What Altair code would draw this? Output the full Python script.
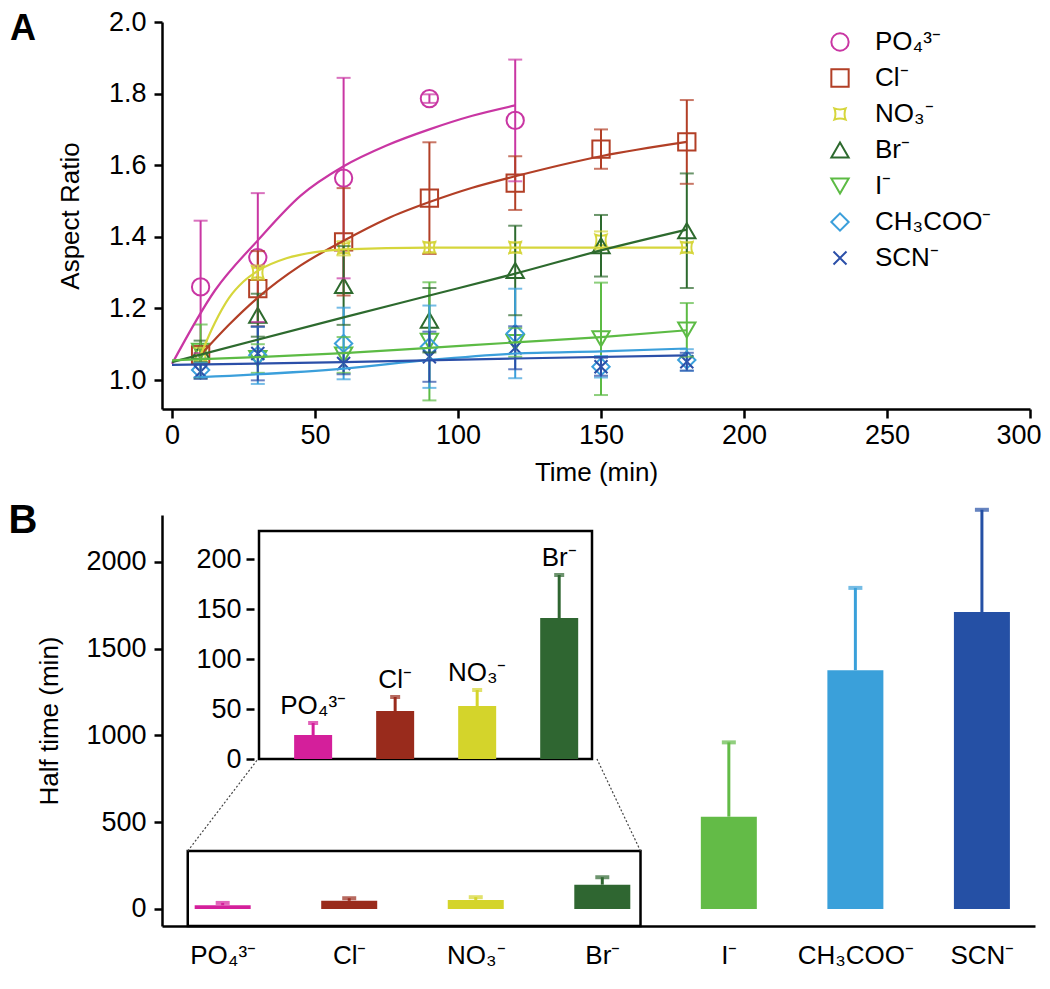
import altair as alt
import pandas as pd

FONT = "Liberation Sans"

# ---------------- shared categories ----------------
ions = ["PO₄³⁻", "Cl⁻", "NO₃⁻", "Br⁻", "I⁻", "CH₃COO⁻", "SCN⁻"]
line_colors = ["#c936a3", "#b23f26", "#d6d63c", "#2d6a2e", "#5cbb44", "#3b9fdb", "#2b4fa8"]
bar_colors = ["#d41f9b", "#992b1c", "#d4d42b", "#2f6631", "#63bb47", "#3aa0da", "#2550a5"]
NO3_SHAPE = "M-0.65,-0.65Q0,-0.4,0.65,-0.65Q0.4,0,0.65,0.65Q0,0.4,-0.65,0.65Q-0.4,0,-0.65,-0.65Z"
X_SHAPE = "M-0.75,-0.75L0.75,0.75M-0.75,0.75L0.75,-0.75"
marker_shapes = ["circle", "square", NO3_SHAPE, "triangle-up", "triangle-down", "diamond", X_SHAPE]

# ---------------- panel A: measured points ----------------
times = [10, 30, 60, 90, 120, 150, 180]
po4_times = [10, 30, 60, 90, 120]
po4_mean = [1.26, 1.342, 1.564, 1.786, 1.725]
po4_err = [0.185, 0.18, 0.28, 0.012, 0.17]
cl_mean = [1.07, 1.255, 1.386, 1.508, 1.55, 1.645, 1.665]
cl_err = [0.025, 0.105, 0.15, 0.156, 0.075, 0.055, 0.117]
no3_mean = [1.07, 1.30, 1.368, 1.37, 1.37, 1.39, 1.37]
no3_err = [0.02, 0.02, 0.02, 0.015, 0.015, 0.025, 0.015]
br_mean = [1.08, 1.181, 1.264, 1.167, 1.306, 1.375, 1.417]
br_err = [0.03, 0.06, 0.11, 0.09, 0.125, 0.086, 0.16]
i_mean = [1.08, 1.06, 1.07, 1.108, 1.105, 1.115, 1.14]
i_err = [0.075, 0.04, 0.05, 0.165, 0.04, 0.157, 0.075]
ac_mean = [1.028, 1.069, 1.102, 1.093, 1.13, 1.037, 1.056]
ac_err = [0.02, 0.08, 0.1, 0.115, 0.125, 0.03, 0.03]
scn_mean = [1.023, 1.074, 1.046, 1.065, 1.09, 1.037, 1.051]
scn_err = [0.02, 0.075, 0.03, 0.07, 0.06, 0.025, 0.025]

# ---------------- panel A: fitted curves ----------------
po4_fit_t = [0, 15, 30, 45, 60, 75, 90, 105, 120]
po4_fit_v = [1.045, 1.25, 1.39, 1.515, 1.597, 1.655, 1.70, 1.738, 1.767]
cl_fit_t = [10, 20, 30, 45, 60, 75, 90, 105, 120, 150, 180]
cl_fit_v = [1.07, 1.155, 1.23, 1.32, 1.389, 1.45, 1.497, 1.537, 1.569, 1.625, 1.665]
no3_fit_t = [10, 15, 20, 25, 30, 40, 50, 60, 90, 120, 150, 180]
no3_fit_v = [1.07, 1.16, 1.23, 1.275, 1.305, 1.34, 1.357, 1.365, 1.37, 1.37, 1.37, 1.37]
br_fit_t = [0, 60, 90, 120, 150, 180]
br_fit_v = [1.05, 1.175, 1.236, 1.297, 1.362, 1.42]
i_fit_t = [0, 30, 60, 90, 120, 150, 180]
i_fit_v = [1.055, 1.064, 1.075, 1.09, 1.105, 1.12, 1.139]
ac_fit_t = [10, 60, 90, 120, 150, 180]
ac_fit_v = [1.008, 1.032, 1.056, 1.074, 1.08, 1.088]
scn_fit_t = [0, 60, 120, 180]
scn_fit_v = [1.042, 1.05, 1.06, 1.069]

# ---------------- panel B: half times ----------------
half_time = [22, 47, 52, 140, 532, 1376, 1711]
half_err = [13, 15, 16, 43, 428, 474, 589]
inset_time = [24, 48, 53, 141]
inset_err = [12, 14, 16, 43]

# ---------------- build tables ----------------
pt_series = [
    (po4_times, po4_mean, po4_err), (times, cl_mean, cl_err), (times, no3_mean, no3_err),
    (times, br_mean, br_err), (times, i_mean, i_err), (times, ac_mean, ac_err),
    (times, scn_mean, scn_err),
]
rows = []
for ion, (ts, ms, es) in zip(ions, pt_series):
    for t, m, e in zip(ts, ms, es):
        rows.append({"ion": ion, "t": t, "v": m, "lo": m - e, "hi": m + e})
df_pts = pd.DataFrame(rows)
df_caps = pd.concat([
    df_pts[["ion", "t", "lo"]].rename(columns={"lo": "v"}),
    df_pts[["ion", "t", "hi"]].rename(columns={"hi": "v"}),
])

fit_series = [
    (po4_fit_t, po4_fit_v), (cl_fit_t, cl_fit_v), (no3_fit_t, no3_fit_v), (br_fit_t, br_fit_v),
    (i_fit_t, i_fit_v), (ac_fit_t, ac_fit_v), (scn_fit_t, scn_fit_v),
]
frows = []
for ion, (ts, vs) in zip(ions, fit_series):
    for k, (t, v) in enumerate(zip(ts, vs)):
        frows.append({"ion": ion, "t": t, "v": v, "k": k})
df_fit = pd.DataFrame(frows)

df_bars = pd.DataFrame({
    "idx": list(range(len(ions))), "ion": ions, "val": half_time,
    "top": [v + e for v, e in zip(half_time, half_err)],
})
df_inset = pd.DataFrame({
    "idx": list(range(4)), "ion": ions[:4], "val": inset_time,
    "top": [v + e for v, e in zip(inset_time, inset_err)],
})
df_legend = pd.DataFrame({"ion": ions})

# ---------------- scales (explicit pixel ranges in one canvas) ----------------
CANVAS_W = 1034
CANVAS_H = 968

xA = alt.Scale(domain=[-3.5, 300], range=[154, 1022], nice=False, zero=False)
yA = alt.Scale(domain=[0.919, 2.0], range=[401, 14], nice=False, zero=False)
xB = alt.Scale(domain=[-0.44, 6.38], range=[154, 1027], nice=False, zero=False)
yB = alt.Scale(domain=[-98, 2270], range=[918, 507], nice=False, zero=False)
xI = alt.Scale(domain=[-0.66, 3.4], range=[246, 589], nice=False, zero=False)
yI = alt.Scale(domain=[0, 228], range=[751, 523], nice=False, zero=False)
yLeg = alt.Scale(type="point", domain=ions, range=[34, 250], padding=0)

axA_x = alt.Axis(orient="bottom", offset=401 - CANVAS_H, values=[0, 50, 100, 150, 200, 250, 300],
                 format="d", tickSize=9, labelPadding=4, title="Time (min)", titlePadding=11,
                 labelFlush=1, labelFlushOffset=11)
axA_y = alt.Axis(orient="left", offset=-154, values=[1.0, 1.2, 1.4, 1.6, 1.8, 2.0], format=".1f",
                 tickSize=8, labelPadding=8, title="Aspect Ratio", titlePadding=25)

colA = alt.Scale(domain=ions, range=line_colors)
shpA = alt.Scale(domain=ions, range=marker_shapes)

errA = alt.Chart(df_pts).mark_rule(strokeWidth=2).encode(
    x=alt.X("t:Q", scale=xA, axis=axA_x),
    y=alt.Y("lo:Q", scale=yA, axis=axA_y),
    y2="hi:Q",
    color=alt.Color("ion:N", scale=colA, legend=None),
)
capA = alt.Chart(df_caps).mark_tick(orient="horizontal", size=14, thickness=2).encode(
    x=alt.X("t:Q", scale=xA, axis=axA_x),
    y=alt.Y("v:Q", scale=yA, axis=axA_y),
    color=alt.Color("ion:N", scale=colA, legend=None),
)
lineA = alt.Chart(df_fit).mark_line(strokeWidth=2.2, interpolate="monotone").encode(
    x=alt.X("t:Q", scale=xA, axis=axA_x),
    y=alt.Y("v:Q", scale=yA, axis=axA_y),
    color=alt.Color("ion:N", scale=colA, legend=None),
    detail="ion:N",
    order="k:Q",
)
ptsA = alt.Chart(df_pts).mark_point(filled=False, size=300, strokeWidth=2, opacity=1).encode(
    x=alt.X("t:Q", scale=xA, axis=axA_x),
    y=alt.Y("v:Q", scale=yA, axis=axA_y),
    color=alt.Color("ion:N", scale=colA, legend=None),
    shape=alt.Shape("ion:N", scale=shpA, legend=None),
)
panelA = alt.layer(ptsA, errA, capA, lineA)

# legend for panel A (symbols + labels)
legSym = alt.Chart(df_legend).mark_point(filled=False, size=300, strokeWidth=2, opacity=1).encode(
    x=alt.value(832),
    y=alt.Y("ion:N", scale=yLeg, axis=None),
    color=alt.Color("ion:N", scale=colA, legend=None),
    shape=alt.Shape("ion:N", scale=shpA, legend=None),
)
legTxt = alt.Chart(df_legend).mark_text(align="left", baseline="middle", fontSize=26, font=FONT,
                                        color="black").encode(
    x=alt.value(867),
    y=alt.Y("ion:N", scale=yLeg, axis=None),
    text="ion:N",
)
legendA = alt.layer(legSym, legTxt)

# ---------------- panel B main ----------------
label_expr = "[" + ",".join("'" + s + "'" for s in ions) + "][datum.value]"
axB_x = alt.Axis(orient="bottom", offset=918 - CANVAS_H, values=list(range(len(ions))),
                 labelExpr=label_expr, ticks=False, labelPadding=16, title=None, labelFontSize=26)
axB_y = alt.Axis(orient="left", offset=-154, values=[0, 500, 1000, 1500, 2000], format="d",
                 tickSize=8, labelPadding=8, title="Half time (min)", titlePadding=23)
colB = alt.Scale(domain=ions, range=bar_colors)

barsB = alt.Chart(df_bars).mark_bar(size=56, orient="vertical").encode(
    x=alt.X("idx:Q", scale=xB, axis=axB_x),
    y=alt.Y("val:Q", scale=yB, axis=axB_y),
    color=alt.Color("ion:N", scale=colB, legend=None),
)
errB = alt.Chart(df_bars).mark_rule(strokeWidth=3).encode(
    x=alt.X("idx:Q", scale=xB, axis=axB_x),
    y=alt.Y("val:Q", scale=yB, axis=axB_y),
    y2="top:Q",
    color=alt.Color("ion:N", scale=colB, legend=None),
)
capB = alt.Chart(df_bars).mark_tick(orient="horizontal", size=14, thickness=4).encode(
    x=alt.X("idx:Q", scale=xB, axis=axB_x),
    y=alt.Y("top:Q", scale=yB, axis=axB_y),
    color=alt.Color("ion:N", scale=colB, legend=None),
)
# zoom box around the four small bars (in panel-B data units)
zoom_box = pd.DataFrame({"x0": [-0.276], "x1": [3.302], "y0": [-98], "y1": [334]})
boxB = alt.Chart(zoom_box).mark_rect(fillOpacity=0, stroke="black", strokeWidth=2.5).encode(
    x=alt.X("x0:Q", scale=xB, axis=axB_x), x2="x1:Q",
    y=alt.Y("y0:Q", scale=yB, axis=axB_y), y2="y1:Q",
)
connectors = pd.DataFrame({"x0": [-0.276, 3.302], "y0": [334, 334], "x1": [0.279, 2.958], "y1": [864, 864]})
connB = alt.Chart(connectors).mark_rule(strokeDash=[2, 2], strokeWidth=1.2, color="#444").encode(
    x=alt.X("x0:Q", scale=xB, axis=axB_x), x2="x1:Q",
    y=alt.Y("y0:Q", scale=yB, axis=axB_y), y2="y1:Q",
)
panelB = alt.layer(barsB, errB, capB, boxB, connB)

# ---------------- inset ----------------
axI_y = alt.Axis(orient="left", offset=-246, values=[0, 50, 100, 150, 200], format="d",
                 tickSize=8, labelPadding=5, title=None, domain=False)
frame = pd.DataFrame({"x0": [-0.66], "x1": [3.4], "y0": [0], "y1": [228]})
frameI = alt.Chart(frame).mark_rect(fillOpacity=0, stroke="black", strokeWidth=2.5).encode(
    x=alt.X("x0:Q", scale=xI, axis=None), x2="x1:Q",
    y=alt.Y("y0:Q", scale=yI, axis=axI_y), y2="y1:Q",
)
barsI = alt.Chart(df_inset).mark_bar(size=38, orient="vertical").encode(
    x=alt.X("idx:Q", scale=xI, axis=None),
    y=alt.Y("val:Q", scale=yI, axis=axI_y),
    color=alt.Color("ion:N", scale=colB, legend=None),
)
errI = alt.Chart(df_inset).mark_rule(strokeWidth=3).encode(
    x=alt.X("idx:Q", scale=xI, axis=None),
    y=alt.Y("val:Q", scale=yI, axis=axI_y),
    y2="top:Q",
    color=alt.Color("ion:N", scale=colB, legend=None),
)
capI = alt.Chart(df_inset).mark_tick(orient="horizontal", size=10, thickness=4).encode(
    x=alt.X("idx:Q", scale=xI, axis=None),
    y=alt.Y("top:Q", scale=yI, axis=axI_y),
    color=alt.Color("ion:N", scale=colB, legend=None),
)
txtI = alt.Chart(df_inset).mark_text(fontSize=26, font=FONT, baseline="bottom", dy=-4, color="black").encode(
    x=alt.X("idx:Q", scale=xI, axis=None),
    y=alt.Y("top:Q", scale=yI, axis=axI_y),
    text="ion:N",
)
inset = alt.layer(frameI, barsI, errI, capI, txtI)

# ---------------- panel letters ----------------
letterA = alt.Chart(pd.DataFrame({"s": ["A"]})).mark_text(
    fontSize=36, fontWeight="bold", font=FONT, align="center", baseline="top", color="black"
).encode(x=alt.value(15), y=alt.value(4), text="s:N")
letterB = alt.Chart(pd.DataFrame({"s": ["B"]})).mark_text(
    fontSize=40, fontWeight="bold", font=FONT, align="center", baseline="middle", color="black"
).encode(x=alt.value(15), y=alt.value(513), text="s:N")

chart = alt.layer(panelA, legendA, panelB, inset, letterA, letterB).resolve_scale(
    x="independent", y="independent", color="independent", shape="independent"
).properties(
    width=CANVAS_W, height=CANVAS_H, padding=0, autosize=alt.AutoSizeParams(type="none"),
    background="white",
).configure_view(stroke=None).configure_axis(
    domainColor="black", domainWidth=2.5, tickColor="black", tickWidth=2.5,
    labelColor="black", titleColor="black", labelFont=FONT, titleFont=FONT,
    labelFontSize=27, titleFontSize=26, titleFontWeight="normal", grid=False,
    labelOverlap=False, labelFlush=False,
).configure_text(font=FONT)

chart.save("out.html", embed_options={"renderer": "svg", "actions": False})
